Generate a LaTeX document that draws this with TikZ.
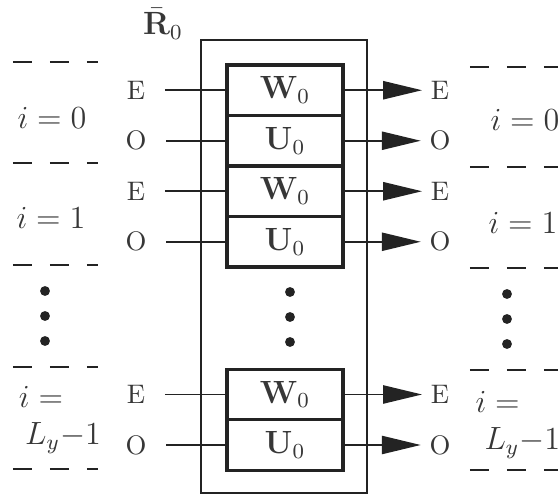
\documentclass[tikz,border=0pt]{standalone}
\usepackage{amsmath}
\usepackage{amssymb}
\usepackage{tikz}
\usetikzlibrary{
  arrows.meta,
  positioning
}
\usepackage{xcolor}
\definecolor{inkclr}{RGB}{35, 35, 35}
\definecolor{txtclr}{RGB}{55, 55, 55}
\tikzset{
  % Bloklar
  blockbox/.style  = {draw=inkclr, line width=1.2pt, minimum width=43.3pt,
                      minimum height=18.84pt, inner sep=0pt, outer sep=0pt,
                      text=txtclr, font=\large},
  % Tashqi ramka
  frameline/.style = {draw=inkclr, line width=0.5pt},
  % Simlar
  wire/.style      = {draw=inkclr, line width=0.6pt},
  outwire/.style   = {draw=inkclr, line width=0.6pt, -{Triangle[length=14.5pt, width=6.8pt]}},
  % Ajratuvchi chiziqlar
  sepdash/.style   = {draw=inkclr, line width=0.7pt, dash pattern=on 7.1pt off 6.7pt},
  % Etiketlar
  inlab/.style     = {text=txtclr, inner xsep=7.4pt, inner ysep=0pt, outer sep=0pt},
  outlab/.style    = {text=txtclr, inner xsep=3.3pt, inner ysep=0pt, outer sep=0pt},
  rowlab/.style    = {text=txtclr, font=\large, inner sep=0pt},
  % Nuqtalar
  dotpt/.style     = {circle, fill=inkclr, inner sep=1.3pt},
}
\begin{document}
\begin{tikzpicture}[x=0.373pt, y=-0.373pt]
  \clip (0,0) rectangle (558,494);
  % Tashqi ramka
  \draw[frameline] (201,40) rectangle (367,493);
  \node[text=txtclr, font=\large, inner sep=0pt] (rbar) at (163,24) {$\bar{\mathbf{R}}_0$};
  % Bloklar (yuqori guruh)
  \node[blockbox] (w1) at (285,90.25) {$\mathbf{W}_0$};
  \node[blockbox, below=0pt of w1] (u1) {$\mathbf{U}_0$};
  \node[blockbox, below=0pt of u1] (w2) {$\mathbf{W}_0$};
  \node[blockbox, below=0pt of w2] (u2) {$\mathbf{U}_0$};
  % Bloklar (pastki guruh)
  \node[blockbox] (wL) at (285,394.5) {$\mathbf{W}_0$};
  \node[blockbox, below=0pt of wL] (uL) {$\mathbf{U}_0$};
  % Kirish va chiqish etiketlari
  \coordinate (lx) at (136,0);
  \coordinate (rx) at (440,0);
  \foreach \b/\t in {w1/E, u1/O, w2/E, u2/O, wL/E, uL/O}{
    \node[inlab] (in\b) at (\b -| lx) {\t};
    \node[outlab] (out\b) at (\b -| rx) {\t};
    \draw[wire] (in\b) -- (\b);
    \draw[outwire] (\b) -- (out\b);
  }
  % Ajratuvchi chiziqlar
  \draw[sepdash] (13,62) -- (98,62);
  \draw[sepdash] (13,163) -- (98,163);
  \draw[sepdash] (13,265) -- (98,265);
  \draw[sepdash] (13,367) -- (98,367);
  \draw[sepdash] (13,469) -- (98,469);
  \draw[sepdash] (470,67) -- (570,67);
  \draw[sepdash] (470,167) -- (570,167);
  \draw[sepdash] (470,268) -- (570,268);
  \draw[sepdash] (470,370) -- (570,370);
  \draw[sepdash] (470,470) -- (570,470);
  % Qator etiketlari
  \node[rowlab] (i0L) at (52,118) {$i=0$};
  \node[rowlab] (i1L) at (51,218) {$i=1$};
  \node[rowlab, anchor=west] (i0R) at (490,120) {$i=0$};
  \node[rowlab, anchor=west] (i1R) at (488,223) {$i=1$};
  \node[rowlab] (iLL) at (41,397) {$i=$};
  \node[rowlab] (lyL) at (63,438) {$L_y{-}1$};
  \node[rowlab, anchor=west] (iLR) at (475,402) {$i=$};
  \node[rowlab, anchor=west] (lyR) at (484,443) {$L_y{-}1$};
  % Nuqtalar
  \foreach \k/\y in {1/291, 2/316, 3/341}{
    \node[dotpt] (dl\k) at (45,\y) {};
    \node[dotpt] (dc\k) at (290,\y+1) {};
    \node[dotpt] (dr\k) at (507,\y+3) {};
  }
\end{tikzpicture}
\end{document}
